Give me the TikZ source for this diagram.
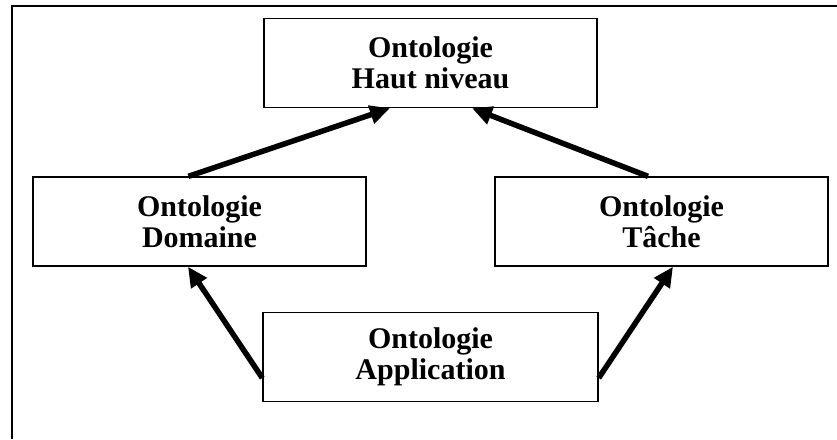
\documentclass[tikz,border=0pt]{standalone}
\usepackage{fontspec}
\setmainfont{Liberation Serif}
\usetikzlibrary{arrows.meta}
\begin{document}
\begin{tikzpicture}[x=1pt,y=-1pt,
  level/.style={draw=black, line width=1.4pt, fill=white, minimum width=333pt,
    minimum height=89pt, inner sep=0pt, align=center,
    font=\bfseries\fontsize{30}{31.5}\selectfont},
  link/.style={line width=5.5pt, -{Triangle[length=20pt,width=18pt]}}]
  \useasboundingbox (0,0) rectangle (837,439);
  % open frame (top and left edges)
  \draw[line width=2.2pt] (12,439) -- (12,6) -- (837,6);
  % ontology levels
  \node[level] (top)  at (430.5,63)    {Ontologie\\Haut niveau};
  \node[level] (dom)  at (199.5,221.5) {Ontologie\\Domaine};
  \node[level] (task) at (661.5,221.5) {Ontologie\\Tâche};
  \node[level, minimum width=335pt] (app) at (430.5,357) {Ontologie\\Application};
  % specialisation links
  \draw[link] ([xshift=-11pt]dom.north)   -- ([xshift=-40.5pt]top.south);
  \draw[link] ([xshift=-13.5pt]task.north) -- ([xshift=41.5pt]top.south);
  \draw[link] ([yshift=-21pt]app.west)    -- ([xshift=-11.5pt]dom.south);
  \draw[link] ([yshift=-21pt]app.east)    -- ([xshift=11.5pt]task.south);
\end{tikzpicture}
\end{document}
